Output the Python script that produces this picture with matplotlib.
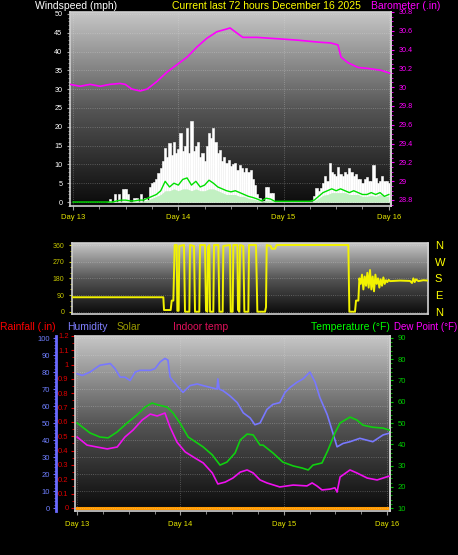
import numpy as np
import matplotlib
matplotlib.use("Agg")
import matplotlib.pyplot as plt
from matplotlib.colors import LinearSegmentedColormap
from matplotlib.ticker import MultipleLocator, FuncFormatter

plt.rcParams['font.family'] = ['Liberation Sans', 'DejaVu Sans']

# ---------------- data ----------------
title_text = "Current last 72 hours December 16 2025"
day_ticks = [0, 24, 48, 72]
day_labels = ["Day 13", "Day 14", "Day 15", "Day 16"]

# wind gusts (mph), every half hour starting at hour 8
gust_start_hour = 8.0
gust_step_hours = 0.5
gust_mph = [
    0, 0.8, 0, 2, 0, 2, 0, 3.5, 3.5, 2,
    0, 0, 1, 1, 0, 2, 0, 1, 0.5, 4,
    5, 5.3, 6, 7.7, 9, 11, 14.4, 12, 15.7, 12.5,
    16, 13, 14, 18.3, 13.5, 15, 19.7, 13, 21.5, 13.5,
    15, 16, 12, 13, 11, 15, 18.3, 17, 19.7, 16,
    13, 13.8, 11, 12, 10.5, 11.2, 9.5, 10, 10.5, 8.5,
    9.8, 9, 8, 9, 8, 8.5, 6, 4.5, 2, 1,
    0, 0, 4, 4, 2.4, 2.4, 0, 0, 0, 0,
    0, 0, 0, 0, 0, 0, 0, 0, 0, 0,
    0, 0, 0, 0, 1.5, 3.7, 3, 3.7, 5, 7,
    5.5, 10.3, 8, 7.5, 7, 9.3, 7.5, 7, 8, 7.5,
    9, 8, 7, 7.5, 6, 6, 5, 6, 6.6, 5.5,
    5.5, 9.8, 6.5, 5, 5.5, 7, 5.5, 5.5, 5,
]
# hourly average wind (mph) from hour 0
wind_avg_mph = [
    0, 0, 0, 0, 0, 0, 0, 0,
    0, 0, 0.3, 0.5, 0.5, 0.3, 0.3, 0.5, 0.5, 1,
    1.5, 2, 3, 5.5, 4, 5, 4.5, 6, 6.4, 4.5,
    5.5, 4, 4.5, 5.8, 5, 4, 3.5, 3, 2.7, 3,
    2.5, 2, 1.5, 1.2, 0.8, 0.3, 1, 0.8, 0.2, 0.2,
    0.2, 0.2, 0.2, 0.2, 0.2, 0.2, 0.2, 0.5, 1.5, 2.5,
    3, 3.5, 3, 3.5, 3, 2.5, 3, 2.5, 2, 2,
    2.5, 2, 2.5, 1.5, 2,
]
wind_low_mph = [
    0, 0, 0, 0, 0, 0, 0, 0,
    0, 0, 0.2, 0.3, 0.3, 0.2, 0.2, 0.3, 0.3, 0.5,
    1, 1.5, 2, 3, 3, 3.5, 3, 3.5, 3.5, 3,
    3.5, 3, 3, 3.5, 3.5, 3, 2.5, 2, 2, 2,
    1.5, 1.5, 1, 0.8, 0.5, 0.3, 0.5, 0.5, 0.2, 0.2,
    0.2, 0.2, 0.2, 0.2, 0.2, 0.2, 0.2, 0.3, 1, 1.8,
    2, 2.5, 2.5, 2.5, 2.5, 2, 2, 2, 1.5, 1.5,
    1.8, 1.5, 2, 1.5, 1.5,
]

baro_hours = [-0.7, 1.6, 3.9, 6.2, 8.4, 10.7, 11.9, 13.4, 15.3, 16.9,
              19.1, 21.4, 23.7, 26.0, 28.3, 30.5, 32.8, 35.1, 35.8, 38.7,
              41.9, 45.1, 48.3, 51.3, 55.8, 58.8, 60.4, 61.1, 62.7, 65.0,
              67.2, 70.2, 72.2]
baro_inhg = [30.03, 30.01, 30.03, 30.01, 30.03, 30.04, 30.03, 29.98, 29.96, 29.98,
             30.06, 30.16, 30.24, 30.32, 30.43, 30.52, 30.59, 30.62, 30.63, 30.53,
             30.53, 30.52, 30.51, 30.50, 30.48, 30.47, 30.45, 30.32, 30.26, 30.21,
             30.20, 30.18, 30.15]

dir_hours = [-0.7, 18.08, 18.22, 19.59, 19.80, 20.14, 20.41, 20.82, 20.96, 21.23,
             21.37, 22.33, 22.53, 23.43, 23.56, 24.39, 24.59, 25.48, 25.62, 26.65,
             26.85, 27.13, 27.27, 27.54, 27.68, 28.36, 28.50, 29.39, 29.60, 30.28,
             30.42, 31.79, 31.93, 32.34, 32.47, 33.30, 33.43, 33.71, 33.85, 34.53,
             34.74, 35.56, 35.70, 37.14, 37.41, 38.99, 39.19, 39.33, 40.15, 40.36,
             41.04, 41.38, 56.12, 56.33, 57.49, 57.70, 58.18, 58.39, 58.66, 58.93,
             59.21, 59.48, 59.76, 60.03, 60.30, 60.58, 60.85, 61.13, 61.40, 61.68,
             61.95, 62.23, 62.50, 62.77, 63.05, 63.32, 63.60, 63.87, 64.14, 64.42,
             64.69, 66.75, 68.80, 69.21, 69.49, 69.76, 70.04, 70.52, 71.55, 72.5]
dir_deg = [78, 78, 9, 9, 60, 60, 360, 360, 5, 5,
           355, 360, 0, 0, 360, 355, 0, 0, 360, 360,
           5, 0, 350, 360, 0, 0, 360, 360, 0, 0,
           355, 360, 0, 0, 360, 360, 10, 0, 360, 355,
           0, 0, 360, 360, 0, 0, 25, 360, 355, 340,
           340, 360, 360, 0, 0, 60, 60, 180, 150, 200,
           120, 190, 140, 210, 130, 225, 120, 190, 110, 200,
           150, 180, 130, 175, 140, 185, 150, 170, 160, 172,
           165, 168, 166, 155, 180, 160, 175, 165, 170, 168]
dir_ticks = [0, 90, 180, 270, 360]
compass_labels = ['N', 'E', 'S', 'W', 'N']

hum_hours = [0, 1.2, 3.0, 5.3, 7.7, 8.8, 10.0, 11.1, 12.3, 13.5,
             14.6, 17.0, 18.1, 19.3, 20.4, 21.1, 21.6, 23.2, 24.6, 26.2,
             27.9, 29.3, 30.9, 32.5, 32.7, 33.0, 33.9, 35.5, 37.2, 38.6,
             40.2, 41.3, 42.5, 44.1, 45.5, 47.1, 48.3, 49.5, 51.1, 52.5,
             54.1, 55.3, 56.4, 58.1, 59.2, 60.4, 61.8, 63.4, 65.7, 68.7,
             71.1, 72.5]
hum_pct = [79, 78, 80, 84, 85, 82, 77, 77, 75, 80,
           81, 81, 82, 86, 88, 87, 77, 72, 68, 72,
           73, 72, 71, 70, 76, 70, 69, 66, 62, 56,
           53, 49, 50, 58, 61, 62, 68, 71, 74, 76,
           80, 74, 65, 55, 46, 36, 38, 39, 41, 39,
           43, 44]

temp_hours = [0, 3.0, 5.3, 7.2, 9.3, 11.6, 13.9, 15.8, 17.4, 18.8,
              20.9, 22.3, 23.9, 25.8, 27.9, 29.3, 31.4, 33.2, 34.8, 36.7,
              37.9, 39.5, 40.9, 42.5, 43.2, 45.5, 47.8, 50.2, 52.3, 53.7,
              54.8, 56.9, 58.3, 59.9, 61.1, 63.4, 65.0, 66.4, 68.7, 71.1,
              72.5]
temp_f = [50, 45.3, 43.4, 43, 45.8, 50, 53.8, 57.5, 59.4, 58.5,
          57.5, 54.7, 50, 43.4, 40.6, 38.7, 35, 30.2, 31.6, 35.9,
          42, 44.8, 44.4, 39.6, 39.6, 35.9, 31.6, 29.8, 28.8, 27.9,
          30.2, 31.2, 37.3, 45.3, 50, 52.8, 51.4, 49, 48, 47.6,
          46.7]

dew_hours = [0, 2.3, 4.6, 7.0, 9.3, 11.1, 13.0, 15.1, 17.0, 18.6,
             20.4, 21.6, 23.2, 25.1, 27.4, 29.3, 31.4, 32.7, 34.4, 36.2,
             37.9, 39.5, 40.9, 42.5, 44.1, 47.1, 50.2, 53.4, 54.6, 55.7,
             56.9, 58.8, 59.9, 60.4, 61.1, 63.4, 65.0, 67.4, 69.7, 72.5]
dew_f = [43.4, 39.6, 38.7, 37.8, 38.7, 43.4, 46.7, 51.4, 54.2, 53.3,
         54.7, 48, 41, 36.4, 33.5, 31.2, 26.5, 21.3, 22.2, 24.1,
         26.9, 27.9, 26.5, 23.2, 21.8, 19.9, 20.8, 20.4, 21.8, 20.4,
         18.5, 18.9, 19.5, 17.5, 24.6, 27.9, 26.5, 24.1, 23.2, 25]

rain_hours = [0, 72.2]
rain_in = [0.0, 0.0]

# ---------------- figure ----------------
W, H = 458, 555
fig = plt.figure(figsize=(W / 100, H / 100), dpi=100, facecolor='black')


def box(x0, y0, x1, y1):
    return [x0 / W, 1 - y1 / H, (x1 - x0) / W, (y1 - y0) / H]


bg_cmap = LinearSegmentedColormap.from_list('bg', ['#0a0a0a', '#555555', '#c6c6c6'])
grad = np.linspace(1, 0, 256).reshape(-1, 1)


def add_bg(ax):
    ax.imshow(grad, cmap=bg_cmap, vmin=0, vmax=1, aspect='auto',
              extent=[0, 1, 0, 1], transform=ax.transAxes, zorder=0,
              interpolation='bilinear')


def frame(ax, color='#d0d0d0'):
    for s in ax.spines.values():
        s.set_color(color)
        s.set_linewidth(1.2)


def hide_spines(ax, keep=()):
    for name, s in ax.spines.items():
        s.set_visible(name in keep)


fmt = FuncFormatter(lambda v, p: f'{round(v, 2):g}')
grid_kw = dict(color='#e8e8e8', alpha=0.35, lw=0.6, ls=':')

# ---- top panel: wind speed + barometer ----
ax1 = fig.add_axes(box(70, 12, 391, 206))
add_bg(ax1)
gust_hours = gust_start_hour + gust_step_hours * np.arange(len(gust_mph))
avg_hours = np.arange(len(wind_avg_mph))
ax1.bar(gust_hours, gust_mph, width=gust_step_hours, color='white',
        edgecolor='white', linewidth=0.4, zorder=2)
ax1.fill_between(avg_hours, 0, wind_low_mph, color='#c2f0c2', lw=0, zorder=3)
ax1.plot(avg_hours, wind_avg_mph, color='#00e000', lw=1.0, zorder=4)
ax1.set_xlim(-0.7, 72.5)
ax1.set_ylim(-1.06, 50.5)
ax1.set_xticks(day_ticks)
ax1.set_xticklabels(day_labels)
ax1.xaxis.set_minor_locator(MultipleLocator(6))
ax1.yaxis.set_major_locator(MultipleLocator(5))
ax1.yaxis.set_minor_locator(MultipleLocator(1))
ax1.tick_params(axis='x', which='both', colors='#a0a0a0', labelcolor='#e6e600',
                labelsize=5.5, length=3, pad=2.5)
ax1.tick_params(axis='x', which='minor', length=2)
ax1.tick_params(axis='y', which='both', colors='#a0a0a0', labelcolor='white',
                labelsize=5.2, length=2.5, pad=3)
ax1.tick_params(axis='y', which='minor', length=1.5)
ax1.grid(True, which='major', **grid_kw)
frame(ax1)

ax1b = ax1.twinx()
ax1b.plot(baro_hours, baro_inhg, color='#ff00ff', lw=1.2, zorder=5)
ax1b.set_ylim(28.736, 30.8)
ax1b.yaxis.set_major_locator(MultipleLocator(0.2))
ax1b.yaxis.set_minor_locator(MultipleLocator(0.05))
ax1b.yaxis.set_major_formatter(fmt)
ax1b.tick_params(axis='y', which='both', colors='#ff00ff', labelsize=5.2, length=2.5, pad=3)
ax1b.tick_params(axis='y', which='minor', length=1.5)
hide_spines(ax1b, keep=('right',))
ax1b.spines['right'].set_color('#d0d0d0')
ax1b.spines['right'].set_linewidth(1.2)

# ---- middle panel: wind direction ----
ax2 = fig.add_axes(box(72, 243, 428, 314))
add_bg(ax2)
ax2.plot(dir_hours, dir_deg, color='#f2f200', lw=1.4, zorder=3)
ax2.set_xlim(-0.7, 72.5)
ax2.set_ylim(-12.4, 370.8)
ax2.set_yticks(dir_ticks)
ax2.yaxis.set_minor_locator(MultipleLocator(30))
ax2.set_xticks([])
ax2.tick_params(axis='y', which='both', colors='#c8c800', labelsize=5, length=2.5, pad=3)
ax2.tick_params(axis='y', which='minor', length=1.5)
ax2.grid(True, axis='y', **grid_kw)
frame(ax2)

ax2r = ax2.twinx()
ax2r.set_ylim(-12.4, 370.8)
ax2r.set_yticks(dir_ticks)
ax2r.set_yticklabels(compass_labels)
ax2r.tick_params(axis='y', length=0, labelcolor='#ffff00', labelsize=8, pad=5)
hide_spines(ax2r)

# ---- bottom panel: rain, humidity, temperature, dew point ----
ax3 = fig.add_axes(box(75, 336, 390, 511))
add_bg(ax3)
ax3.plot(rain_hours, rain_in, color='#ff9a00', lw=2.2, zorder=3)
ax3.set_xlim(-0.5, 72.7)
ax3.set_ylim(-0.021, 1.2)
ax3.yaxis.set_major_locator(MultipleLocator(0.1))
ax3.yaxis.set_minor_locator(MultipleLocator(0.05))
ax3.yaxis.set_major_formatter(fmt)
ax3.set_xticks(day_ticks)
ax3.set_xticklabels(day_labels)
ax3.xaxis.set_minor_locator(MultipleLocator(6))
ax3.tick_params(axis='y', which='both', colors='#e00000', labelcolor='#dd0000',
                labelsize=5.5, length=3, pad=1.5)
ax3.tick_params(axis='y', which='minor', length=2)
ax3.tick_params(axis='x', which='both', colors='#a0a0a0', labelcolor='#e6e600',
                labelsize=5.5, length=3, pad=4)
ax3.tick_params(axis='x', which='minor', length=2)
ax3.grid(True, axis='x', **grid_kw)
frame(ax3)

ax3h = ax3.twinx()
ax3h.plot(hum_hours, hum_pct, color='#7878ff', lw=1.2, zorder=4)
ax3h.set_ylim(-1.76, 101.2)
ax3h.yaxis.tick_left()
hide_spines(ax3h, keep=('left',))
ax3h.spines['left'].set_position(('axes', -19 / 315))
ax3h.spines['left'].set_color('#6a6aff')
ax3h.spines['left'].set_linewidth(2)
ax3h.yaxis.set_major_locator(MultipleLocator(10))
ax3h.yaxis.set_minor_locator(MultipleLocator(2))
ax3h.tick_params(axis='y', which='both', colors='#6a6aff', labelcolor='#6f7fff',
                 labelsize=5.5, length=2.5, pad=2)
ax3h.tick_params(axis='y', which='minor', length=1.5)
ax3h.grid(True, axis='y', **grid_kw)

ax3t = ax3.twinx()
ax3t.plot(temp_hours, temp_f, color='#10d010', lw=1.2, zorder=5)
ax3t.plot(dew_hours, dew_f, color='#f010f0', lw=1.2, zorder=5)
ax3t.set_ylim(8.59, 90.94)
ax3t.yaxis.set_major_locator(MultipleLocator(10))
ax3t.yaxis.set_minor_locator(MultipleLocator(2))
ax3t.tick_params(axis='y', which='both', colors='#00cc00', labelsize=5.5, length=2.5, pad=3)
ax3t.tick_params(axis='y', which='minor', length=1.5)
hide_spines(ax3t, keep=('right',))
ax3t.spines['right'].set_color('#d0d0d0')
ax3t.spines['right'].set_linewidth(1.2)

# ---- header texts ----
hdr = dict(fontsize=7.5, va='center', ha='left')
y_top = 1 - 6 / H
fig.text(35 / W, y_top, "Windspeed (mph)", color='white', **hdr)
fig.text(172 / W, y_top, title_text, color='#ffff00', **hdr)
fig.text(371 / W, y_top, "Barometer (.in)", color='#ff00ff', **hdr)

y_mid = 1 - 327 / H
fig.text(0 / W, y_mid, "Rainfall (.in)", color='#ff0000', **hdr)
fig.text(67 / W, y_mid, "Humidity", color='#7f7fff', **hdr)
fig.text(117 / W, y_mid, "Solar", color='#9a9a00', **hdr)
fig.text(173 / W, y_mid, "Indoor temp", color='#e0105a', **hdr)
fig.text(311 / W, y_mid, "Temperature (°F)", color='#00ff00', **hdr)
fig.text(457 / W, y_mid, "Dew Point (°F)", color='#ff00ff', fontsize=7,
         va='center', ha='right')

fig.savefig('out.png', dpi=100, facecolor='black')
